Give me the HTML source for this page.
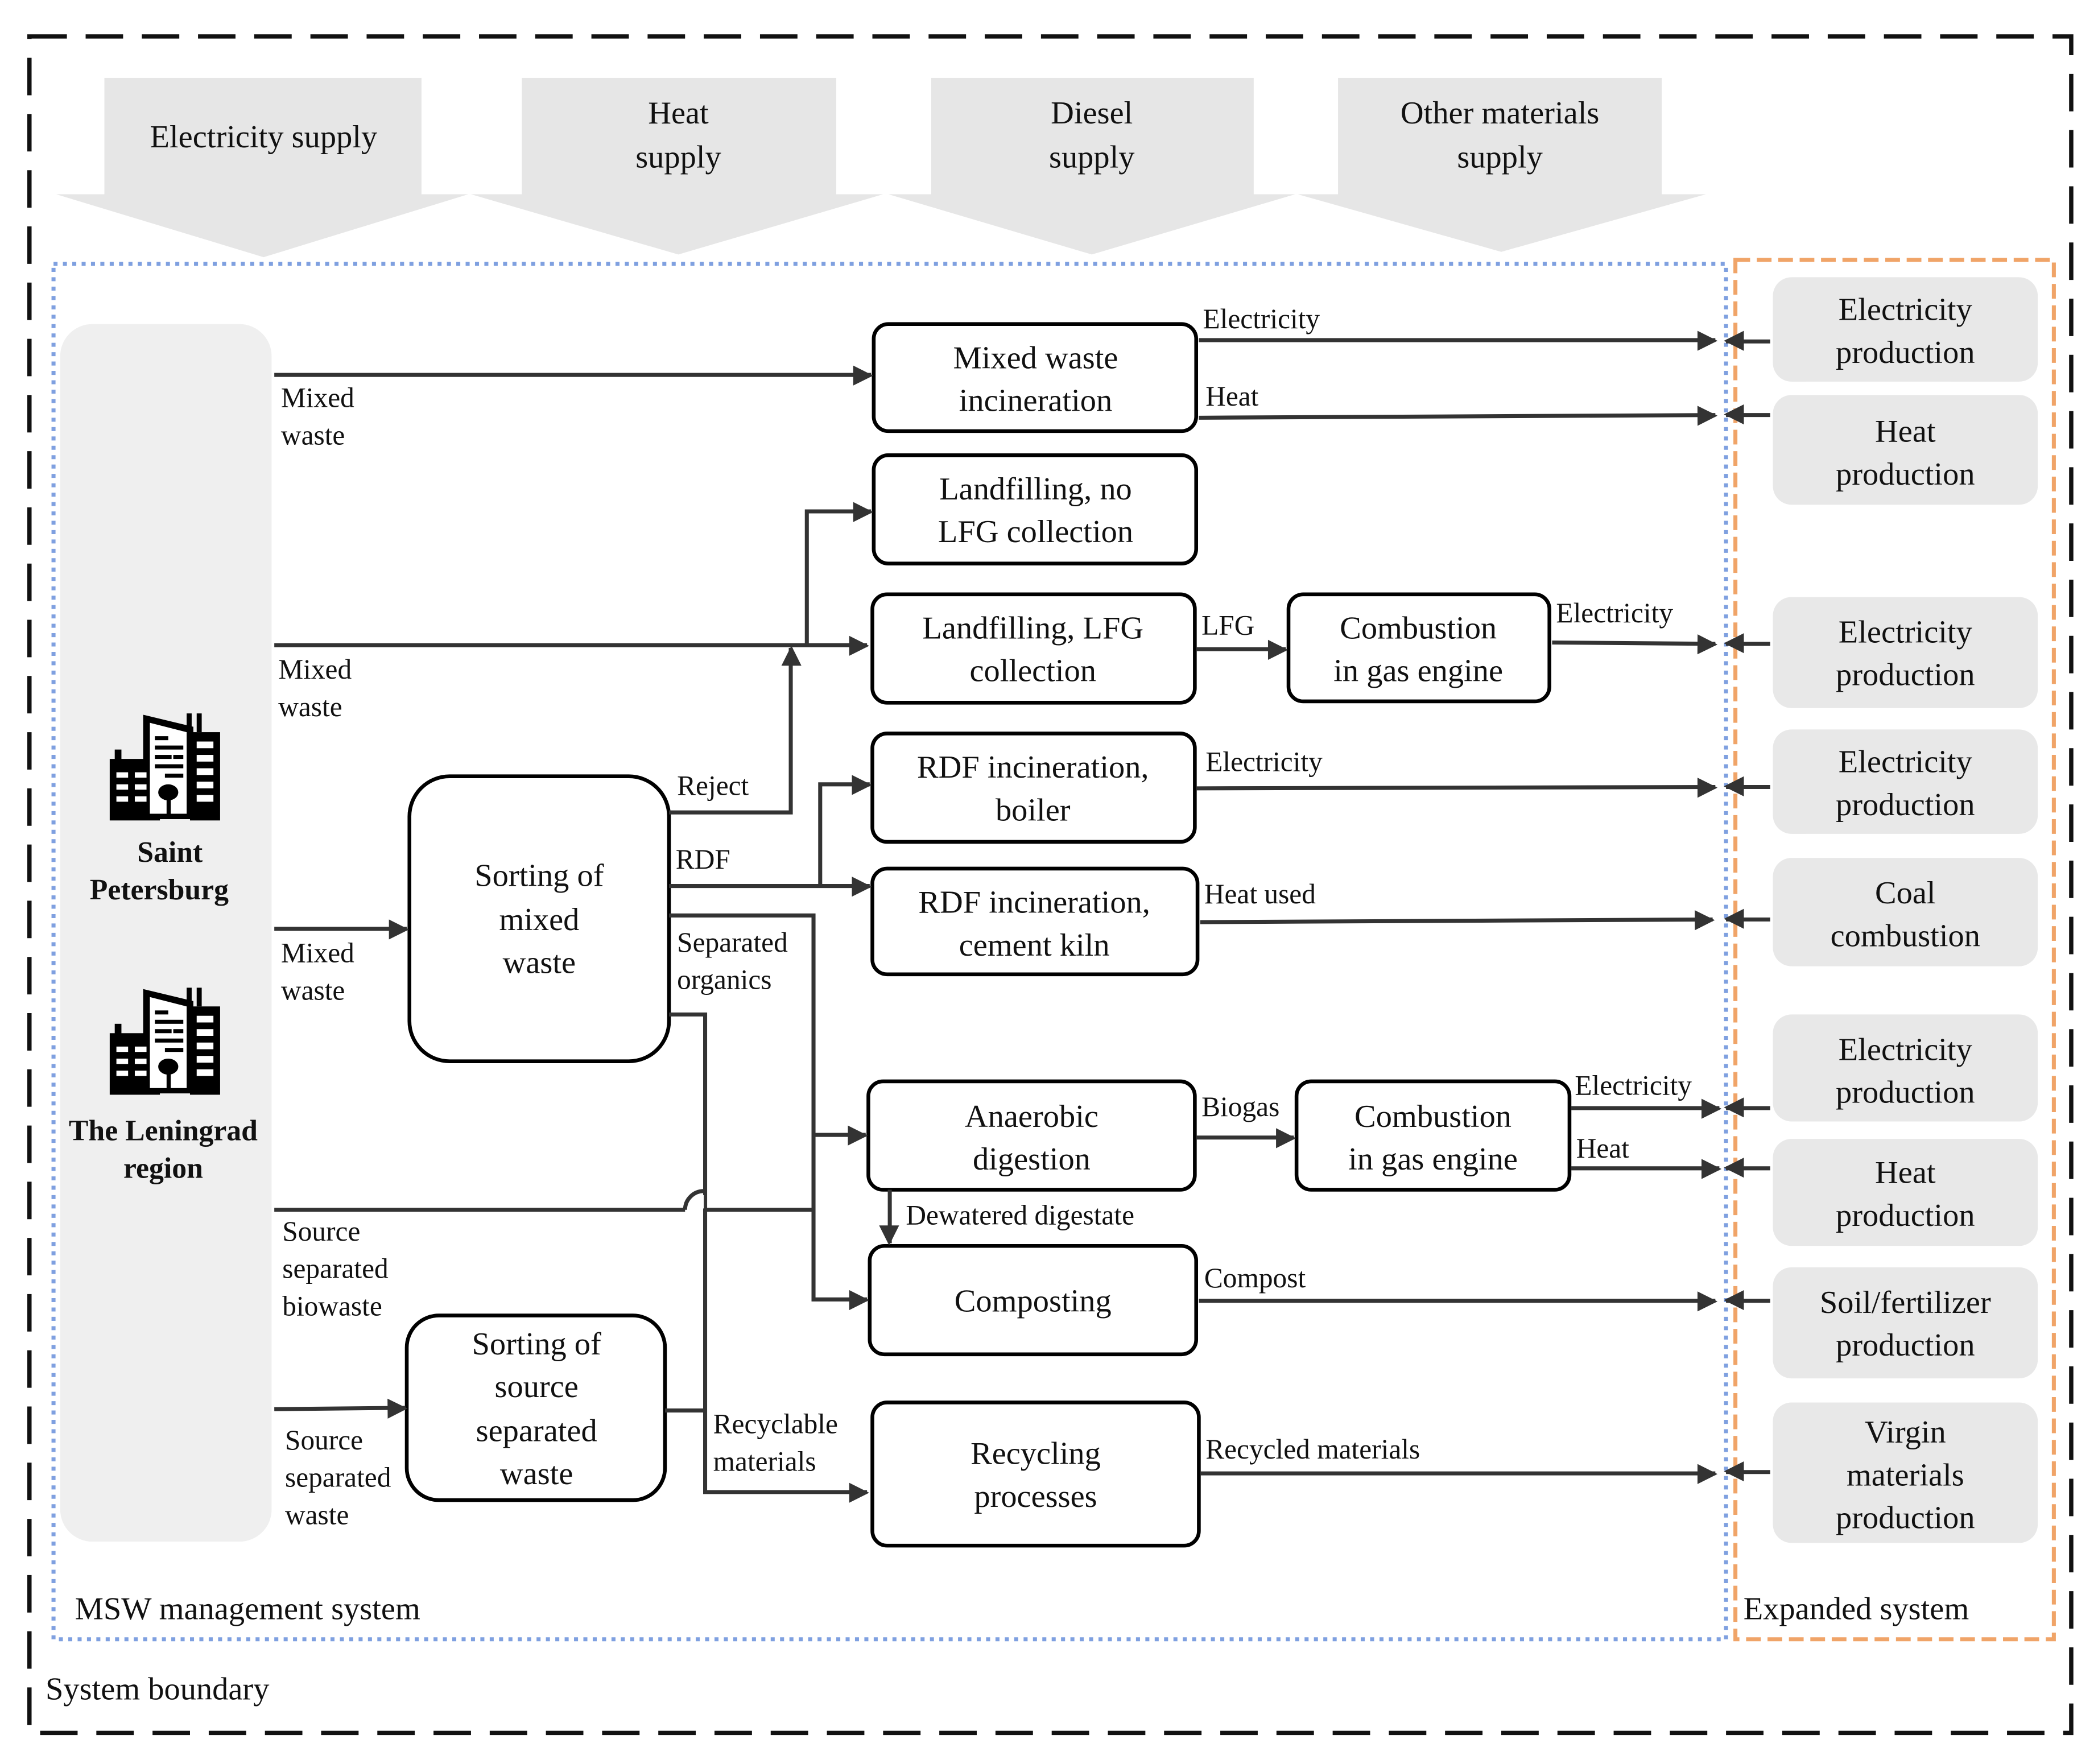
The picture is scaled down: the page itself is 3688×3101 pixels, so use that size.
<!DOCTYPE html>
<html><head><meta charset="utf-8"><style>
html,body{margin:0;padding:0;background:#fff;}
svg{display:block;}
text{font-family:"Liberation Serif","Times New Roman",serif;fill:#111;}
.b{font-size:24px;text-anchor:middle;}
.l{font-size:21px;}
.bx{fill:#fff;stroke:#000;stroke-width:2.8;}
.g{fill:#e8e8e8;}
.ln{stroke:#333;stroke-width:3;fill:none;}
</style></head><body>
<svg width="3688" height="3101" viewBox="0 0 1568 1318" xmlns="http://www.w3.org/2000/svg">
<defs>
<marker id="a" viewBox="0 0 10 10" refX="9" refY="5" markerWidth="6.5" markerHeight="6.5" orient="auto" markerUnits="userSpaceOnUse" style="overflow:visible"><path d="M0,0L10,5L0,10z" fill="#333" transform="scale(2.3)translate(-5,-2.5)"/></marker>
<g id="bld">
<rect x="0" y="35" width="30" height="46" fill="#000"/>
<rect x="3" y="28" width="4" height="8" fill="#000"/>
<polygon points="20,2 50,11 50,80 20,80" fill="#000"/>
<polygon points="24,8 46,15 46,76 24,76" fill="#fff"/>
<rect x="48" y="15" width="18" height="66" fill="#000"/>
<rect x="46" y="1" width="3" height="12" fill="#000"/>
<rect x="52" y="1" width="3" height="14" fill="#000"/>
<g fill="#fff"><rect x="52" y="22" width="10" height="5"/><rect x="52" y="32" width="10" height="5"/><rect x="52" y="42" width="10" height="5"/><rect x="52" y="52" width="10" height="5"/><rect x="52" y="62" width="10" height="5"/>
<rect x="4" y="45" width="7" height="4"/><rect x="15" y="45" width="7" height="4"/><rect x="4" y="54" width="7" height="4"/><rect x="15" y="54" width="7" height="4"/><rect x="4" y="63" width="7" height="4"/><rect x="15" y="63" width="7" height="4"/></g>
<g fill="#000"><rect x="27" y="18" width="8" height="3"/><rect x="27" y="25" width="17" height="3"/><rect x="27" y="32" width="10" height="3"/><rect x="38" y="32" width="6" height="3"/><rect x="27" y="39" width="17" height="3"/><rect x="33" y="46" width="11" height="3"/><circle cx="35" cy="60" r="6"/><rect x="34" y="60" width="2.5" height="17"/></g>
</g>
</defs>
<rect width="1568" height="1318" fill="#fff"/>
<rect x="22" y="27" width="1526" height="1268" fill="none" stroke="#111" stroke-width="3.2" stroke-dasharray="28,14"/>
<g fill="#e6e6e6">
<rect x="78" y="58" width="237" height="88"/><polygon points="42,145 350,145 197,192"/>
<rect x="390" y="58" width="235" height="88"/><polygon points="352,145 660,145 507,190"/>
<rect x="696" y="58" width="241" height="88"/><polygon points="664,145 968,145 816,190"/>
<rect x="1000" y="58" width="242" height="88"/><polygon points="970,145 1275,145 1122,188"/>
</g>
<text class="b" x="197" y="110">Electricity supply</text>
<text class="b" x="507" y="92">Heat</text><text class="b" x="507" y="125">supply</text>
<text class="b" x="816" y="92">Diesel</text><text class="b" x="816" y="125">supply</text>
<text class="b" x="1121" y="92">Other materials</text><text class="b" x="1121" y="125">supply</text>
<rect x="40" y="197" width="1250" height="1028" fill="none" stroke="#7fa0e0" stroke-width="3" stroke-dasharray="3,4"/>
<rect x="1297" y="194" width="238" height="1031" fill="none" stroke="#f0a468" stroke-width="3" stroke-dasharray="11,5"/>
<rect x="45" y="242" width="158" height="910" rx="24" fill="#efefef"/>
<use href="#bld" transform="translate(82,532) scale(1.25,1)"/>
<use href="#bld" transform="translate(82,737) scale(1.25,1)"/>
<text class="b" x="127" y="644" style="font-weight:bold;font-size:22px">Saint</text>
<text class="b" x="119" y="672" style="font-weight:bold;font-size:22px">Petersburg</text>
<text class="b" x="122" y="852" style="font-weight:bold;font-size:22px">The Leningrad</text>
<text class="b" x="122" y="880" style="font-weight:bold;font-size:22px">region</text>
<g class="g">
<rect x="1325" y="207" width="198" height="78" rx="14"/>
<rect x="1325" y="295" width="198" height="82" rx="14"/>
<rect x="1325" y="446" width="198" height="83" rx="14"/>
<rect x="1325" y="545" width="198" height="78" rx="14"/>
<rect x="1325" y="641" width="198" height="81" rx="14"/>
<rect x="1325" y="758" width="198" height="80" rx="14"/>
<rect x="1325" y="851" width="198" height="80" rx="14"/>
<rect x="1325" y="947" width="198" height="83" rx="14"/>
<rect x="1325" y="1048" width="198" height="105" rx="14"/>
</g>
<g class="b">
<text x="1424" y="239">Electricity</text><text x="1424" y="271">production</text>
<text x="1424" y="330">Heat</text><text x="1424" y="362">production</text>
<text x="1424" y="480">Electricity</text><text x="1424" y="512">production</text>
<text x="1424" y="577">Electricity</text><text x="1424" y="609">production</text>
<text x="1424" y="675">Coal</text><text x="1424" y="707">combustion</text>
<text x="1424" y="792">Electricity</text><text x="1424" y="824">production</text>
<text x="1424" y="884">Heat</text><text x="1424" y="916">production</text>
<text x="1424" y="981">Soil/fertilizer</text><text x="1424" y="1013">production</text>
<text x="1424" y="1078">Virgin</text><text x="1424" y="1110">materials</text><text x="1424" y="1142">production</text>
</g>
<rect class="bx" x="653" y="242" width="241" height="80" rx="11"/>
<rect class="bx" x="653" y="340" width="241" height="81" rx="11"/>
<rect class="bx" x="652" y="444" width="241" height="81" rx="11"/>
<rect class="bx" x="963" y="444" width="195" height="80" rx="11"/>
<rect class="bx" x="652" y="548" width="241" height="81" rx="11"/>
<rect class="bx" x="652" y="649" width="243" height="79" rx="11"/>
<rect class="bx" x="649" y="808" width="244" height="81" rx="11"/>
<rect class="bx" x="969" y="808" width="204" height="81" rx="11"/>
<rect class="bx" x="650" y="931" width="244" height="81" rx="11"/>
<rect class="bx" x="652" y="1048" width="244" height="107" rx="11"/>
<rect class="bx" x="306" y="580" width="194" height="213" rx="30"/>
<rect class="bx" x="304" y="983" width="193" height="138" rx="24"/>
<g class="b">
<text x="774" y="275">Mixed waste</text><text x="774" y="307">incineration</text>
<text x="774" y="373">Landfilling, no</text><text x="774" y="405">LFG collection</text>
<text x="772" y="477">Landfilling, LFG</text><text x="772" y="509">collection</text>
<text x="1060" y="477">Combustion</text><text x="1060" y="509">in gas engine</text>
<text x="772" y="581">RDF incineration,</text><text x="772" y="613">boiler</text>
<text x="773" y="682">RDF incineration,</text><text x="773" y="714">cement kiln</text>
<text x="771" y="842">Anaerobic</text><text x="771" y="874">digestion</text>
<text x="1071" y="842">Combustion</text><text x="1071" y="874">in gas engine</text>
<text x="772" y="980">Composting</text>
<text x="774" y="1094">Recycling</text><text x="774" y="1126">processes</text>
<text x="403" y="662">Sorting of</text><text x="403" y="695">mixed</text><text x="403" y="727">waste</text>
<text x="401" y="1012">Sorting of</text><text x="401" y="1044">source</text><text x="401" y="1077">separated</text><text x="401" y="1109">waste</text>
</g>
<g class="ln">
<path d="M205,280H651" marker-end="url(#a)"/>
<path d="M896,254H1282" marker-end="url(#a)"/>
<path d="M896,312L1282,310" marker-end="url(#a)"/>
<path d="M205,482H648" marker-end="url(#a)"/>
<path d="M603,482V382H651" marker-end="url(#a)"/>
<path d="M500,607H591V484" marker-end="url(#a)"/>
<path d="M894,485H961" marker-end="url(#a)"/>
<path d="M1160,480L1282,481" marker-end="url(#a)"/>
<path d="M500,662H650" marker-end="url(#a)"/>
<path d="M613,662V586H650" marker-end="url(#a)"/>
<path d="M894,589L1282,588" marker-end="url(#a)"/>
<path d="M897,689L1280,687" marker-end="url(#a)"/>
<path d="M500,684H608V971H648" marker-end="url(#a)"/>
<path d="M608,848H647" marker-end="url(#a)"/>
<path d="M500,758H527V1115H648" marker-end="url(#a)"/>
<path d="M205,904H512"/>
<path d="M527,904H608"/>
<path d="M205,694H304" marker-end="url(#a)"/>
<path d="M894,850H967" marker-end="url(#a)"/>
<path d="M1174,828H1285" marker-end="url(#a)"/>
<path d="M1174,873H1285" marker-end="url(#a)"/>
<path d="M665,889V929" marker-end="url(#a)"/>
<path d="M896,972H1282" marker-end="url(#a)"/>
<path d="M205,1053L303,1052" marker-end="url(#a)"/>
<path d="M497,1054H527"/>
<path d="M897,1101H1282" marker-end="url(#a)"/>
<path d="M1323,255H1290" marker-end="url(#a)"/>
<path d="M1323,310H1290" marker-end="url(#a)"/>
<path d="M1323,481H1290" marker-end="url(#a)"/>
<path d="M1323,588H1290" marker-end="url(#a)"/>
<path d="M1323,687H1290" marker-end="url(#a)"/>
<path d="M1323,828H1290" marker-end="url(#a)"/>
<path d="M1323,873H1290" marker-end="url(#a)"/>
<path d="M1323,972H1290" marker-end="url(#a)"/>
<path d="M1323,1100H1290" marker-end="url(#a)"/>
</g>
<rect x="513" y="893" width="13" height="10" fill="#fff"/>
<path d="M512,904A14,14 0 0 1 526,890" class="ln"/>
<g class="l">
<text x="899" y="245">Electricity</text>
<text x="901" y="303">Heat</text>
<text x="210" y="304">Mixed</text><text x="210" y="332">waste</text>
<text x="208" y="507">Mixed</text><text x="208" y="535">waste</text>
<text x="506" y="594">Reject</text>
<text x="898" y="474">LFG</text>
<text x="1163" y="465">Electricity</text>
<text x="505" y="649">RDF</text>
<text x="901" y="576">Electricity</text>
<text x="900" y="675">Heat used</text>
<text x="506" y="711">Separated</text><text x="506" y="739">organics</text>
<text x="210" y="719">Mixed</text><text x="210" y="747">waste</text>
<text x="898" y="834">Biogas</text>
<text x="1177" y="818">Electricity</text>
<text x="1178" y="865">Heat</text>
<text x="677" y="915">Dewatered digestate</text>
<text x="900" y="962">Compost</text>
<text x="211" y="927">Source</text><text x="211" y="955">separated</text><text x="211" y="983">biowaste</text>
<text x="213" y="1083">Source</text><text x="213" y="1111">separated</text><text x="213" y="1139">waste</text>
<text x="533" y="1071">Recyclable</text><text x="533" y="1099">materials</text>
<text x="901" y="1090">Recycled materials</text>
</g>
<text x="56" y="1210" style="font-size:24px">MSW management system</text>
<text x="1303" y="1210" style="font-size:24px">Expanded system</text>
<text x="34" y="1270" style="font-size:24px">System boundary</text>
</svg>
</body></html>
